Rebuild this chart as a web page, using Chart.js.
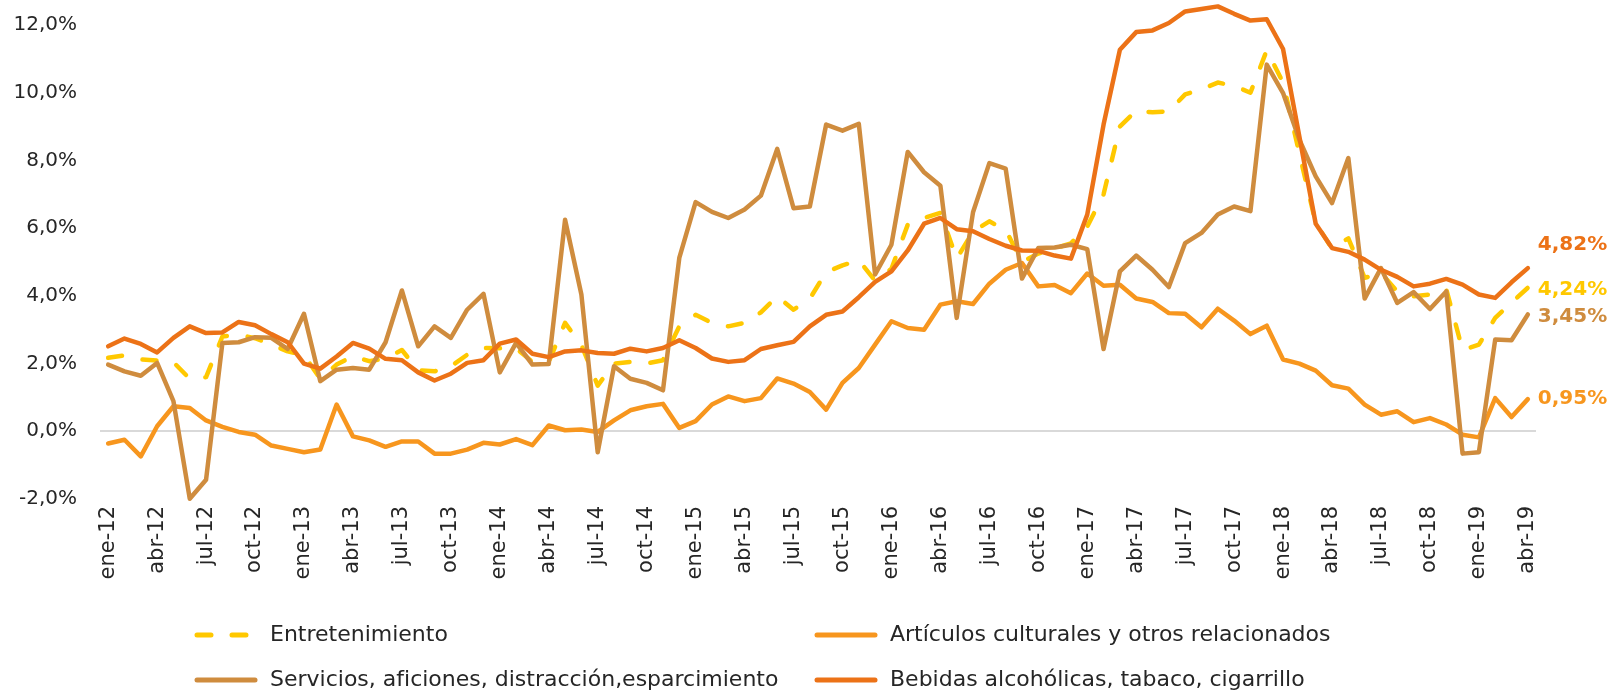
<!DOCTYPE html>
<html lang="es">
<head>
  <meta charset="UTF-8" />
  <title>Variación interanual ocio y cultura</title>
  <script src="https://cdn.jsdelivr.net/npm/chart.js"></script>
  <style>
    html, body { margin: 0; padding: 0; background: #fff; }
  </style>
</head>
<body>
  <canvas id="lineChartCanvas" width="1611" height="690"></canvas>

  <script>
    // categorias: ene-12 ... abr-19
    const monthNames = ['ene', 'feb', 'mar', 'abr', 'may', 'jun', 'jul', 'ago', 'sep', 'oct', 'nov', 'dic'];
    const years = ['12', '13', '14', '15', '16', '17', '18', '19'];
    const categories = [];
    years.forEach(y => monthNames.forEach(m => categories.push(m + '-' + y)));
    categories.length = 88;

    const yTicks = [-2, 0, 2, 4, 6, 8, 10, 12];

    const entretenimiento = [
      2.17, 2.24, 2.12, 2.09, 2.04, 1.55, 1.60, 2.80, 2.85, 2.75, 2.56, 2.36,
      2.25, 1.55, 1.97, 2.22, 2.07, 2.15, 2.40, 1.80, 1.77, 1.92, 2.26, 2.46,
      2.45, 2.45, 2.05, 2.05, 3.20, 2.55, 1.35, 2.00, 2.05, 2.00, 2.10, 3.10,
      3.44, 3.20, 3.10, 3.20, 3.51, 3.99, 3.59, 3.92, 4.70, 4.90, 5.05, 4.45,
      4.80, 6.10, 6.30, 6.45, 5.10, 5.90, 6.20, 5.95, 5.00, 5.25, 5.40, 5.55,
      6.05, 7.00, 9.00, 9.47, 9.42, 9.45, 9.95, 10.10, 10.30, 10.20, 10.00, 11.25,
      10.30, 8.20, 6.15, 5.40, 5.70, 4.53, 4.68, 4.13, 3.99, 4.04, 4.20, 2.40,
      2.56, 3.35, 3.80, 4.24
    ];

    const articulos = [
      -0.36, -0.25, -0.74, 0.15, 0.74, 0.69, 0.32, 0.13, -0.02, -0.10, -0.42, -0.52,
      -0.62, -0.54, 0.79, -0.15, -0.27, -0.46, -0.30, -0.30, -0.66, -0.66, -0.54, -0.34,
      -0.39, -0.23, -0.41, 0.17, 0.03, 0.05, -0.02, 0.32, 0.62, 0.74, 0.81, 0.10,
      0.30, 0.79, 1.03, 0.89, 0.98, 1.56, 1.41, 1.16, 0.64, 1.43, 1.87, 2.56,
      3.25, 3.05, 3.00, 3.74, 3.84, 3.76, 4.36, 4.77, 4.97, 4.28, 4.32, 4.08,
      4.66, 4.30, 4.33, 3.92, 3.82, 3.49, 3.47, 3.07, 3.62, 3.27, 2.87, 3.12,
      2.12, 2.00, 1.79, 1.36, 1.26, 0.79, 0.49, 0.59, 0.27, 0.39, 0.20, -0.10,
      -0.18, 0.98, 0.42, 0.95
    ];

    const servicios = [
      1.97, 1.77, 1.64, 2.02, 0.89, -1.99, -1.43, 2.61, 2.63, 2.78, 2.76, 2.43,
      3.47, 1.48, 1.82, 1.87, 1.82, 2.63, 4.16, 2.51, 3.10, 2.76, 3.59, 4.06,
      1.74, 2.61, 1.97, 1.99, 6.25, 4.04, -0.62, 1.92, 1.55, 1.43, 1.21, 5.12,
      6.77, 6.48, 6.30, 6.55, 6.96, 8.34, 6.59, 6.64, 9.06, 8.88, 9.08, 4.63,
      5.51, 8.25, 7.65, 7.25, 3.35, 6.47, 7.92, 7.76, 4.51, 5.41, 5.43, 5.51,
      5.38, 2.43, 4.72, 5.19, 4.77, 4.26, 5.56, 5.86, 6.40, 6.64, 6.50, 10.83,
      9.99, 8.61, 7.53, 6.74, 8.07, 3.92, 4.82, 3.79, 4.11, 3.61, 4.13, -0.66,
      -0.62, 2.71, 2.69, 3.45
    ];

    const bebidas = [
      2.51, 2.74, 2.58, 2.33, 2.76, 3.10, 2.90, 2.92, 3.23, 3.13, 2.87, 2.63,
      2.00, 1.85, 2.21, 2.61, 2.44, 2.14, 2.10, 1.74, 1.50, 1.70, 2.02, 2.10,
      2.59, 2.71, 2.29, 2.19, 2.36, 2.39, 2.31, 2.29, 2.44, 2.36, 2.46, 2.69,
      2.46, 2.15, 2.05, 2.10, 2.43, 2.54, 2.64, 3.10, 3.44, 3.54, 3.96, 4.41,
      4.72, 5.34, 6.13, 6.30, 5.97, 5.91, 5.68, 5.48, 5.34, 5.33, 5.19, 5.10,
      6.40, 9.06, 11.27, 11.79, 11.84, 12.06, 12.40, 12.47, 12.55, 12.33, 12.13, 12.17,
      11.29, 8.70, 6.13, 5.41, 5.30, 5.07, 4.77, 4.56, 4.28, 4.36, 4.50, 4.33,
      4.04, 3.94, 4.40, 4.82
    ];

    const FONT = '"DejaVu Sans", sans-serif';
    const TEXT = '#262626';

    // etiquetas con el ultimo valor a la derecha de cada serie
    const endLabels = {
      id: 'endLabels',
      afterDatasetsDraw(chart) {
        const ctx = chart.ctx;
        chart.data.datasets.forEach((ds, i) => {
          const meta = chart.getDatasetMeta(i);
          const pt = meta.data[meta.data.length - 1];
          const v = ds.data[ds.data.length - 1];
          ctx.save();
          ctx.font = 'bold 20px ' + FONT;
          ctx.fillStyle = ds.borderColor;
          ctx.textBaseline = 'middle';
          ctx.textAlign = 'left';
          ctx.fillText(v.toFixed(2).replace('.', ',') + '%', pt.x + 10, pt.y + ds.labelShift);
          ctx.restore();
        });
      }
    };

    // leyenda en rejilla 2 x 2 como en Excel
    const gridLegend = {
      id: 'gridLegend',
      afterDraw(chart) {
        const ctx = chart.ctx;
        const cols = [197, 817];
        const rows = [635, 680];
        chart.data.datasets.forEach((ds, i) => {
          const x = cols[i % 2];
          const y = rows[Math.floor(i / 2)];
          ctx.save();
          ctx.strokeStyle = ds.borderColor;
          ctx.lineWidth = 5;
          ctx.lineCap = 'round';
          ctx.setLineDash(ds.borderDash || []);
          ctx.beginPath();
          ctx.moveTo(x, y);
          ctx.lineTo(x + 58, y);
          ctx.stroke();
          ctx.setLineDash([]);
          ctx.fillStyle = TEXT;
          ctx.font = '22px ' + FONT;
          ctx.textBaseline = 'middle';
          ctx.fillText(ds.label, x + 73, y);
          ctx.restore();
        });
      }
    };

    const ctx = document.getElementById('lineChartCanvas').getContext('2d');
    const common = { pointRadius: 0, borderWidth: 4.5, tension: 0, borderCapStyle: 'round', borderJoinStyle: 'round', fill: false, clip: false };

    new Chart(ctx, {
      type: 'line',
      data: {
        labels: categories,
        datasets: [
          Object.assign({ label: 'Entretenimiento', data: entretenimiento, borderColor: '#FFC800', borderDash: [14, 21], order: 3, labelShift: 2 }, common),
          Object.assign({ label: 'Artículos culturales y otros relacionados', data: articulos, borderColor: '#F7961E', order: 2, labelShift: 0 }, common),
          Object.assign({ label: 'Servicios, aficiones, distracción,esparcimiento', data: servicios, borderColor: '#CF8C3E', order: 1, labelShift: 2 }, common),
          Object.assign({ label: 'Bebidas alcohólicas, tabaco, cigarrillo', data: bebidas, borderColor: '#EC7217', order: 0, labelShift: -23 }, common)
        ]
      },
      options: {
        responsive: false,
        animation: false,
        layout: { autoPadding: false, padding: { top: 25, right: 75, bottom: 100, left: 0 } },
        plugins: {
          legend: { display: false },
          tooltip: { enabled: false }
        },
        scales: {
          x: {
            offset: true,
            border: { display: false },
            grid: { display: false, drawTicks: false },
            afterFit: s => { s.height = 91; },
            ticks: {
              autoSkip: false,
              maxRotation: 90,
              minRotation: 90,
              padding: 7,
              color: TEXT,
              font: { family: FONT, size: 21 },
              callback: function (v, i) { return i % 3 === 0 ? this.getLabelForValue(v) : ''; }
            }
          },
          y: {
            min: yTicks[0],
            max: yTicks[yTicks.length - 1],
            border: { display: false },
            afterFit: s => { s.width = 100; },
            afterBuildTicks: s => { s.ticks = yTicks.map(v => ({ value: v })); },
            grid: {
              drawTicks: true,
              tickLength: 10,
              tickColor: 'rgba(0,0,0,0)',
              lineWidth: 2,
              color: c => (c.tick && c.tick.value === 0 ? '#D9D9D9' : 'rgba(0,0,0,0)')
            },
            ticks: {
              padding: 13,
              color: TEXT,
              font: { family: FONT, size: 20 },
              callback: v => v.toFixed(1).replace('.', ',') + '%'
            }
          }
        }
      },
      plugins: [endLabels, gridLegend]
    });
  </script>
</body>
</html>
